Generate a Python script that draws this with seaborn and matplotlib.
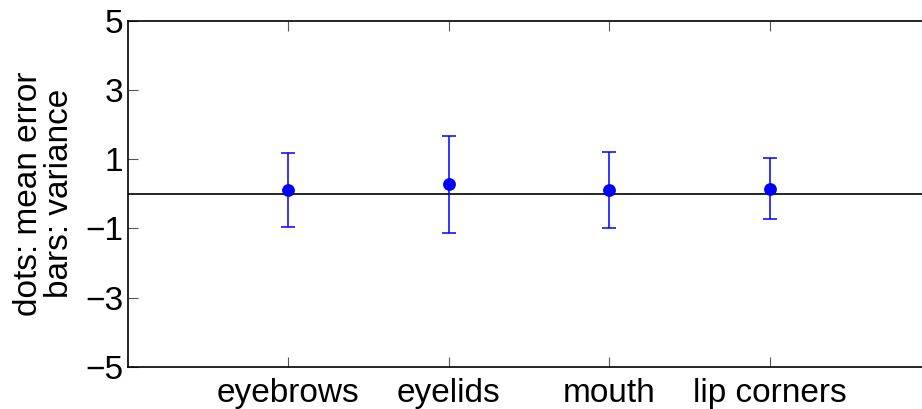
import matplotlib
matplotlib.use("Agg")
import matplotlib.pyplot as plt
import seaborn as sns
import pandas as pd

categories = ["eyebrows", "eyelids", "mouth", "lip corners"]
mean_error = [0.11, 0.28, 0.11, 0.15]
variance = [1.08, 1.40, 1.09, 0.88]
y_ticks = [-5, -3, -1, 1, 3, 5]

sns.set_style("white")
plt.rcParams['font.family'] = ['Liberation Sans', 'DejaVu Sans']
plt.rcParams['font.size'] = 24
plt.rcParams['text.color'] = 'black'
plt.rcParams['axes.labelcolor'] = 'black'
plt.rcParams['xtick.color'] = 'black'
plt.rcParams['ytick.color'] = 'black'

positions = list(range(1, len(categories) + 1))
df = pd.DataFrame({"pos": positions, "err": mean_error, "var": variance, "cat": categories})

fig = plt.figure(figsize=(9.22, 4.09), dpi=100)
ax = fig.add_axes([127.5 / 922, 42 / 409, 802.5 / 922, 346.3 / 409])

ax.axhline(0, color="black", lw=1.2, zorder=1)
ax.errorbar(df["pos"], df["err"], yerr=df["var"], fmt="none", ecolor="blue",
            elinewidth=1.1, capsize=5, capthick=1.1, zorder=2)
sns.scatterplot(data=df, x="pos", y="err", ax=ax, color="blue", s=85,
                edgecolor="blue", linewidth=0, zorder=3, legend=False)

ax.set_xlim(0, 5)
ax.set_ylim(-5, 5)
ax.set_xticks(positions)
ax.set_xticklabels(categories)
ax.set_yticks(y_ticks)
ax.set_xlabel("")
ax.set_ylabel("dots: mean error\nbars: variance", fontsize=24, labelpad=7, linespacing=1.0)
ax.tick_params(direction="in", length=7, width=0.8,
               top=True, right=False, labelsize=24, left=True, bottom=True)
ax.tick_params(axis="x", pad=8)
ax.tick_params(axis="y", pad=3)
ax.tick_params(color="#555555")
for s in ax.spines.values():
    s.set_visible(True)
    s.set_color("black")
    s.set_linewidth(1.2)

fig.savefig("out.png", dpi=100)
